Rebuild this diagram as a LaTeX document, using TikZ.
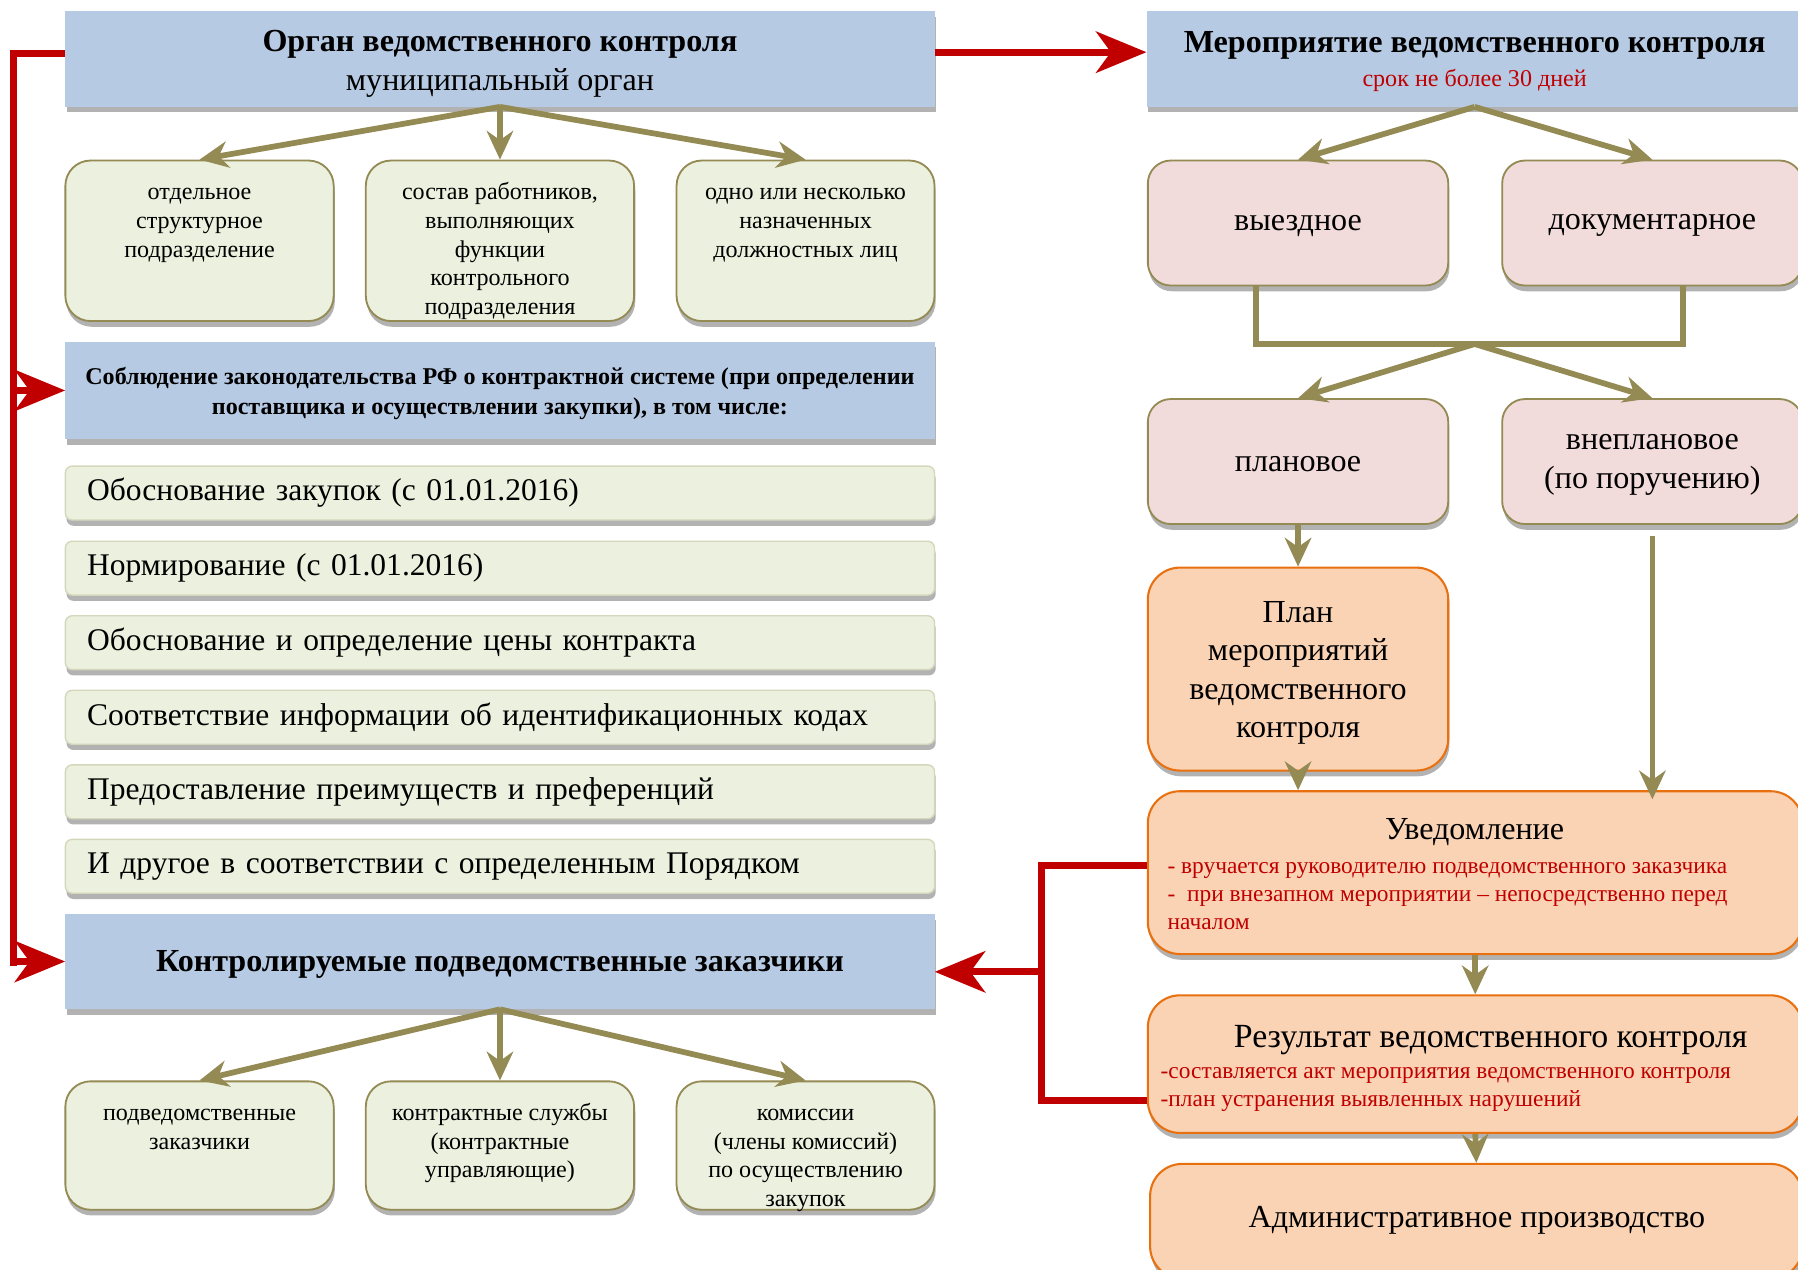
\documentclass[tikz,border=0pt]{standalone}
\usepackage{fontspec}
\setmainfont{Liberation Serif}
\usetikzlibrary{arrows.meta,shadows,calc}
\definecolor{hdrblue}{HTML}{B7CAE3}
\definecolor{lgreen}{HTML}{EBF1DE}
\definecolor{olivec}{HTML}{948A54}
\definecolor{lpink}{HTML}{F2DCDB}
\definecolor{lorange}{HTML}{FAD3B4}
\definecolor{dorange}{HTML}{E8700F}
\definecolor{dred}{HTML}{C00000}
\newcommand\fBig{\fontsize{28}{33.5}\selectfont}
\newcommand\fMid{\fontsize{21}{25}\selectfont}
\newcommand\fRed{\fontsize{20.4}{24.5}\selectfont}
\begin{document}
\begin{tikzpicture}[x=1pt,y=-1pt,
  shd/.style={drop shadow={shadow xshift=1pt,shadow yshift=-5pt,opacity=0.3,fill=black}},
  hdr/.style={fill=hdrblue,draw=none,shd,inner sep=0pt,align=center},
  gbox/.style={fill=lgreen,draw=olivec,line width=1.6pt,rounded corners=22pt,shd,inner sep=0pt},
  listbox/.style={fill=lgreen,draw=lgreen!75!olivec,line width=1.2pt,rounded corners=6pt,shd,
    minimum width=758pt,minimum height=47pt,text width=720pt,inner xsep=19pt,align=left,font=\fontsize{27.5}{33}\selectfont},
  pbox/.style={fill=lpink,draw=olivec,line width=1.6pt,rounded corners=20pt,shd,inner sep=0pt},
  obox/.style={fill=lorange,draw=dorange,line width=1.8pt,rounded corners=28pt,shd,inner sep=0pt},
  btxt/.style={anchor=center,align=center,inner sep=0pt,font=\fBig},
  gtxt/.style={anchor=north,align=center,inner sep=0pt,font=\fMid},
  oarr/.style={draw=olivec,line width=5pt,-{Stealth[length=25pt,width=23pt,inset=8pt]}},
  oline/.style={draw=olivec,line width=5pt},
  rarr/.style={draw=dred,line width=6pt,-{Stealth[length=44pt,width=36pt,inset=13pt]}},
  rline/.style={draw=dred,line width=6pt},
  redtxt/.style={anchor=north west,align=left,inner sep=0pt,text=dred,font=\fRed}]
\useasboundingbox (0,0) rectangle (1568,1107);
\fill[white] (0,0) rectangle (1568,1107);

% ---- left column ----
\node[hdr,minimum width=758pt,minimum height=83pt] (organ) at (436,51.5) {};
\node[btxt] (organt) at (436,55.5) {\textbf{Орган ведомственного контроля}\\муниципальный орган};

\node[gbox,minimum width=234pt,minimum height=140pt] (g1) at (174,210) {};
\node[gbox,minimum width=234pt,minimum height=140pt] (g2) at (436,210) {};
\node[gbox,minimum width=225pt,minimum height=140pt] (g3) at (702.5,210) {};
\node[gtxt] (t1) at (174,156.5) {\strut отдельное\\структурное\\подразделение};
\node[gtxt] (t2) at (436,156.5) {\strut состав работников,\\выполняющих\\функции\\контрольного\\подразделения};
\node[gtxt] (t3) at (702.5,156.5) {\strut одно или несколько\\назначенных\\должностных лиц};

\node[hdr,minimum width=758pt,minimum height=85pt] (sobl) at (436,340.5) {};
\node[btxt,font=\fontsize{21}{26}\selectfont] (soblt) at (436,343)
  {\textbf{Соблюдение законодательства РФ о контрактной системе (при определении}\\\textbf{поставщика и осуществлении закупки), в том числе:}};

\node[listbox] (i1) at (436,430) {Обоснование закупок (с 01.01.2016)};
\node[listbox] (i2) at (436,495.5) {Нормирование (с 01.01.2016)};
\node[listbox] (i3) at (436,560.5) {Обоснование и определение цены контракта};
\node[listbox] (i4) at (436,625.5) {Соответствие информации об идентификационных кодах};
\node[listbox] (i5) at (436,690.5) {Предоставление преимуществ и преференций};
\node[listbox] (i6) at (436,755.5) {И другое в соответствии с определенным Порядком};

\node[hdr,minimum width=758pt,minimum height=83pt] (kontr) at (436,838.5) {};
\node[btxt] (kontrt) at (436,841) {\textbf{Контролируемые подведомственные заказчики}};

\node[gbox,minimum width=234pt,minimum height=112pt] (g4) at (174,999) {};
\node[gbox,minimum width=234pt,minimum height=112pt] (g5) at (436,999) {};
\node[gbox,minimum width=225pt,minimum height=112pt] (g6) at (702.5,999) {};
\node[gtxt] (t4) at (174,959.5) {\strut подведомственные\\заказчики};
\node[gtxt] (t5) at (436,959.5) {\strut контрактные службы\\(контрактные\\управляющие)};
\node[gtxt] (t6) at (702.5,959.5) {\strut комиссии\\(члены комиссий)\\по осуществлению\\закупок};

% ---- right column ----
\node[hdr,minimum width=572pt,minimum height=83pt] (mer) at (1286,51.5) {};
\node[btxt] (mert) at (1286,40) {\textbf{Мероприятие ведомственного контроля}};
\node[btxt,font=\fMid,text=dred] (mers) at (1286,70) {срок не более 30 дней};

\node[pbox,minimum width=262pt,minimum height=109pt] (vyezd) at (1132,194.5) {};
\node[pbox,minimum width=262pt,minimum height=109pt] (dok) at (1441,194.5) {};
\node[pbox,minimum width=262pt,minimum height=109pt] (plan) at (1132,402.5) {};
\node[pbox,minimum width=262pt,minimum height=109pt] (vneplan) at (1441,402.5) {};
\node[btxt] (vyezdt) at (1132,197) {выездное};
\node[btxt] (dokt) at (1441,197) {документарное};
\node[btxt] (plant) at (1132,405) {плановое};
\node[btxt,font=\fontsize{28}{34}\selectfont] (vneplant) at (1441,405) {внеплановое\\(по поручению)};

\node[obox,minimum width=262pt,minimum height=177pt] (planm) at (1132,583.5) {};
\node[btxt] (planmt) at (1132,587) {План\\мероприятий\\ведомственного\\контроля};

\node[obox,minimum width=571pt,minimum height=142pt] (uved) at (1286.5,761) {};
\node[btxt] (uvt) at (1286,726) {Уведомление};
\node[redtxt] (uvr) at (1018,744) {\strut - вручается руководителю подведомственного заказчика\\-\ \ при внезапном мероприятии – непосредственно перед\\началом};

\node[obox,minimum width=571pt,minimum height=120pt] (rez) at (1286.5,928) {};
\node[btxt,font=\fontsize{29.5}{34}\selectfont] (rzt) at (1300,907) {Результат ведомственного контроля};
\node[redtxt] (rzr) at (1012,923.5) {\strut -составляется акт мероприятия ведомственного контроля\\-план устранения выявленных нарушений};

\node[obox,minimum width=569pt,minimum height=100pt] (adm) at (1287.5,1065) {};
\node[btxt] (admt) at (1288,1064) {Административное производство};

% ---- olive connectors ----
\draw[oarr] (organ.south) -- (g1.north);
\draw[oarr] (organ.south) -- (g2.north);
\draw[oarr] (organ.south) -- (g3.north);
\draw[oarr] (kontr.south) -- (g4.north);
\draw[oarr] (kontr.south) -- (g5.north);
\draw[oarr] (kontr.south) -- (g6.north);

\draw[oarr] (mer.south) -- (vyezd.north);
\draw[oarr] (mer.south) -- (dok.north);
\coordinate (bl) at (1095,300);
\coordinate (br) at (1468,300);
\coordinate (bm) at (1286,300);
\draw[oline] (vyezd.south -| bl) -- (bl) -- (br) -- (dok.south -| br);
\draw[oarr] (bm) -- (plan.north);
\draw[oarr] (bm) -- (vneplan.north);
\draw[oarr] (plan.south) -- (planm.north);
\draw[oarr] ([yshift=-10pt]vneplan.south) -- ([yshift=-8pt]vneplan.south |- uved.north);
\draw[oarr] (planm.south) -- (planm.south |- uved.north);
\draw[oarr] (uved.south) -- (rez.north);
\draw[oarr] (rez.south) -- (adm.north);

% ---- red connectors ----
\draw[rarr] ([yshift=6pt]organ.east) -- ([yshift=6pt]mer.west);
\coordinate (lt) at (12,47);
\coordinate (lb) at (12,842);
\draw[rline] ([yshift=4.5pt]organ.west) -- (lt) -- (lb);
\draw[rarr] (lt |- sobl.west) -- (sobl.west);
\draw[rarr] (lt |- kontr.west) -- (kontr.west);

\coordinate (rt) at (908,755);
\coordinate (rb) at (908,960);
\draw[rline] ([yshift=6pt]uved.west) -- (rt) -- (rb) -- (rez.west |- rb);
\draw[rarr] ([yshift=-9pt]rt |- kontr.east) -- ([yshift=-9pt]kontr.east);
\end{tikzpicture}
\end{document}
